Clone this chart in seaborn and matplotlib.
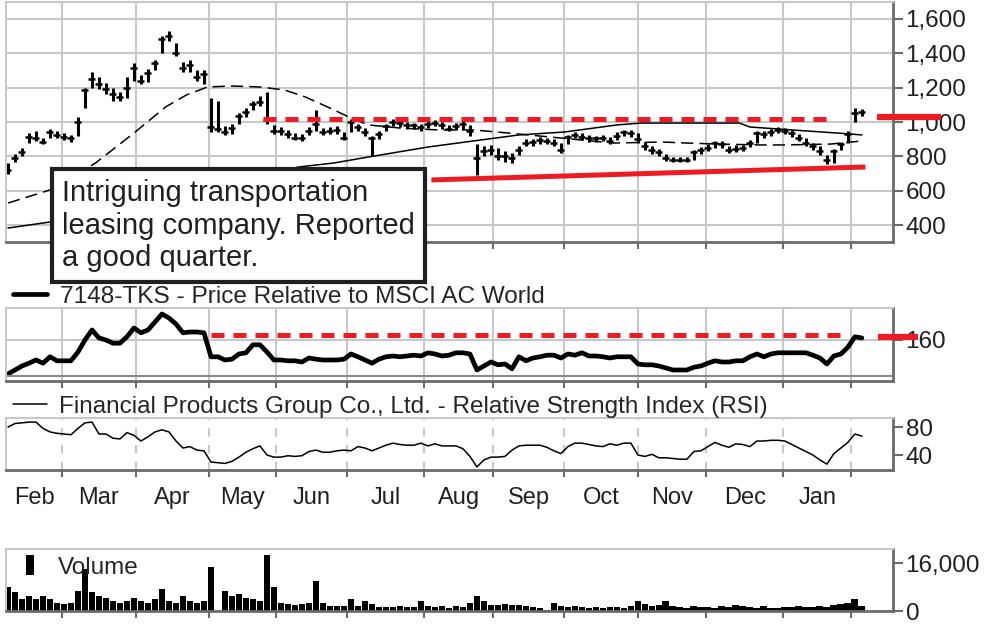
import matplotlib
matplotlib.use('Agg')
import matplotlib.pyplot as plt
from matplotlib.ticker import FuncFormatter
import seaborn as sns

# ── data (one value every second trading session) ──
days = list(range(0, 245, 2))

close = [722, 790, 826, 913, 907, 884, 942, 925, 913, 907,
         1000, 1186, 1250, 1220, 1190, 1165, 1145, 1200, 1316, 1235,
         1284, 1340, 1480, 1500, 1400, 1313, 1330, 1261, 1280, 971,
         960, 942, 965, 1035, 1058, 1105, 1116, 1012, 950, 950,
         930, 910, 907, 950, 990, 942, 948, 954, 910, 1000,
         971, 940, 905, 930, 975, 998, 994, 980, 980, 971,
         990, 994, 980, 960, 975, 988, 950, 790, 830, 838,
         800, 800, 790, 840, 880, 884, 896, 892, 880, 840,
         913, 925, 915, 907, 905, 907, 890, 920, 940, 938,
         900, 860, 838, 825, 790, 780, 780, 780, 826, 838,
         849, 878, 870, 838, 845, 850, 878, 936, 930, 940,
         954, 950, 936, 905, 880, 860, 830, 780, 830, 870,
         930, 1052, 1058]

high = [760, 815, 850, 935, 945, 910, 960, 945, 935, 925,
        1030, 1200, 1290, 1260, 1225, 1200, 1175, 1260, 1340, 1270,
        1310, 1360, 1500, 1530, 1460, 1350, 1360, 1300, 1300, 1140,
        1120, 975, 990, 1050, 1080, 1120, 1150, 1175, 985, 970,
        955, 935, 930, 970, 1070, 965, 970, 975, 940, 1020,
        990, 965, 920, 950, 990, 1015, 1010, 1000, 995, 990,
        1005, 1010, 1000, 980, 995, 1005, 980, 870, 860, 865,
        850, 830, 820, 860, 900, 900, 915, 910, 900, 880,
        925, 940, 935, 925, 920, 925, 915, 940, 955, 955,
        935, 885, 860, 845, 815, 795, 795, 795, 840, 855,
        870, 890, 890, 860, 865, 865, 895, 950, 950, 960,
        970, 965, 955, 930, 905, 880, 860, 810, 845, 885,
        945, 1080, 1075]

low = [700, 770, 800, 880, 890, 870, 905, 905, 895, 885,
       920, 1080, 1200, 1190, 1160, 1120, 1120, 1140, 1240, 1220,
       1230, 1300, 1400, 1470, 1380, 1290, 1290, 1240, 1220, 940,
       940, 925, 930, 990, 1030, 1070, 1090, 990, 930, 925,
       910, 895, 890, 925, 950, 925, 930, 930, 895, 940,
       950, 920, 800, 900, 945, 975, 970, 960, 960, 950,
       965, 975, 960, 945, 955, 960, 920, 693, 800, 810,
       780, 770, 760, 810, 860, 860, 875, 870, 860, 820,
       870, 905, 895, 885, 885, 890, 870, 895, 920, 915,
       880, 840, 815, 800, 775, 770, 770, 770, 780, 815,
       830, 850, 850, 820, 825, 830, 855, 880, 910, 920,
       935, 930, 915, 890, 860, 840, 810, 755, 760, 840,
       880, 1000, 1035]

rel = [117.5, 122.5, 127.5, 131, 135, 131, 139, 134, 134, 134,
       145, 160, 172.5, 162.5, 160, 156, 156, 164, 175, 169,
       172.5, 182.5, 192.5, 187.5, 180, 169, 170, 170, 169, 139,
       139, 135, 136, 142.5, 144, 154, 154, 145, 135, 135,
       134, 134, 132.5, 137.5, 136, 135, 135, 135, 136, 142.5,
       139, 135, 131, 136, 139, 140, 139, 140, 141, 140,
       144, 142.5, 140, 141, 144, 144, 142.5, 122.5, 127.5, 132.5,
       129, 130, 124, 139, 134, 137.5, 139, 141, 141, 137.5,
       142.5, 141, 144, 140, 140, 139, 137.5, 139, 139, 139,
       130, 129, 129, 127.5, 125, 122.5, 122.5, 122.5, 126, 127.5,
       131, 134, 132.5, 132.5, 134, 134, 139, 142.5, 139, 142.5,
       144, 144, 144, 144, 144, 141, 137.5, 130, 140, 142.5,
       151, 164, 162.5]

rsi = [80, 85, 86, 87, 87, 78, 73, 71, 70, 69,
       78, 86, 87, 70, 70, 64, 63, 72, 68, 60,
       66, 73, 76, 73, 60, 50, 52, 47, 46, 30,
       29, 28, 31, 37, 44, 49, 53, 40, 37, 37,
       39, 38, 39, 45, 47, 44, 44, 46, 47, 46,
       52, 50, 46, 50, 54, 57, 55, 54, 54, 57,
       53, 56, 53, 53, 53, 49, 38, 23, 33, 37,
       37, 38, 47, 53, 54, 54, 54, 51, 46, 42,
       52, 57, 57, 55, 53, 52, 56, 54, 57, 57,
       40, 38, 41, 36, 36, 35, 34, 34, 45, 46,
       52, 58, 54, 51, 56, 55, 52, 60, 60, 61,
       61, 60, 55, 50, 45, 40, 33, 27, 42, 50,
       58, 70, 67]

volume = [7900, 6200, 4000, 5100, 4000, 5100, 4000, 2800, 2300, 2800,
          6800, 14100, 6200, 5100, 4500, 3400, 2800, 3400, 4500, 3400,
          2800, 4000, 7300, 3400, 2800, 5100, 3400, 2800, 3400, 14700,
          0, 6800, 5100, 5600, 4500, 4000, 3400, 18600, 7900, 2800,
          2300, 2000, 2300, 2800, 10200, 2800, 1700, 1700, 1700, 4000,
          1700, 3400, 2300, 1400, 1400, 1400, 1700, 1400, 1400, 3400,
          1700, 1400, 1700, 1100, 1700, 1400, 2800, 5100, 3400, 2000,
          2000, 2300, 2000, 2000, 1700, 1400, 1100, 300, 2800, 1700,
          1400, 1700, 1400, 1100, 1400, 1100, 1400, 1400, 1100, 1700,
          3400, 2300, 1700, 2000, 3400, 1700, 1400, 1100, 1700, 1400,
          1400, 1100, 1700, 1400, 2000, 1700, 1400, 1100, 1700, 1100,
          900, 1400, 1400, 1700, 1400, 1400, 1700, 1400, 2000, 2500,
          2800, 4000, 1700]

# moving averages (dashed = shorter, solid = longer)
ma_short_days = [0, 12, 25, 36, 45, 51, 57, 64, 72, 79, 85, 92, 98, 103,
                 112, 123, 133, 143, 158, 173, 187, 194, 203, 215, 222, 235, 244]
ma_short = [530, 606, 762, 936, 1087, 1157, 1203, 1209, 1203, 1186, 1145, 1081, 1023, 983,
            965, 954, 954, 936, 907, 878, 884, 878, 872, 867, 867, 872, 890]
ma_long_days = [0, 12, 26, 41, 55, 69, 83, 93, 103, 120, 133, 146, 159, 174,
                181, 209, 212, 224, 237, 244]
ma_long = [385, 420, 470, 530, 600, 670, 739, 762, 797, 855, 890, 925, 942, 983,
           994, 994, 971, 954, 936, 925]

# red annotations
resistance_days = [73, 235]
resistance = 1020
resistance_marker = 1029
trend_days = [121, 245]
trend_vals = [664, 739]
rel_resistance_days = [58, 238]
rel_resistance = 166
rel_marker = 163.75

month_starts = [15.5, 36.5, 57.5, 76.5, 97, 119, 138.5, 159, 180, 199.5, 221.5, 241]
month_labels = ['Feb', 'Mar', 'Apr', 'May', 'Jun', 'Jul', 'Aug', 'Sep', 'Oct', 'Nov', 'Dec', 'Jan']

note = 'Intriguing transportation\nleasing company. Reported\na good quarter.'
rel_label = '7148-TKS - Price Relative to MSCI AC World'
rsi_label = 'Financial Products Group Co., Ltd. - Relative Strength Index (RSI)'

# ── style ──
sns.set_style('white')
plt.rcParams['font.family'] = ['Liberation Sans', 'DejaVu Sans']

RED = '#ec1c24'
GRID = '#c8c8c8'
DARK = '#6b6b6b'
INK = '#231f20'
XLIM = (-0.57, 252.9)

fig = plt.figure(figsize=(9.97, 6.26), dpi=100)
ax_p = fig.add_axes([0.00602, 0.6134, 0.8897, 0.3834])
ax_r = fig.add_axes([0.00602, 0.3914, 0.8897, 0.1166])
ax_s = fig.add_axes([0.00602, 0.2492, 0.8897, 0.0831])
ax_v = fig.add_axes([0.00602, 0.02396, 0.8897, 0.0990])

comma = FuncFormatter(lambda v, p: f'{v:,.0f}')


def style_panel(ax, ylim, yticks):
    ax.set_xlim(*XLIM)
    ax.set_ylim(*ylim)
    ax.set_xticks(month_starts)
    ax.set_xticklabels([])
    ax.yaxis.tick_right()
    ax.set_yticks(yticks)
    ax.yaxis.set_major_formatter(comma)
    for side in ('left', 'top'):
        ax.spines[side].set(color=GRID, lw=1.5)
    for side in ('right', 'bottom'):
        ax.spines[side].set(color=DARK, lw=2)
    ax.tick_params(axis='x', which='major', direction='out', length=5, width=1.5,
                   color=DARK, bottom=True)
    ax.tick_params(axis='y', direction='out', length=7, width=1.5, color=DARK,
                   labelsize=17.5, pad=2, labelcolor=INK, right=True, left=False)
    ax.set_xlabel('')
    ax.set_ylabel('')


# ── price panel ──
ax_p.vlines(days, low, high, color='black', lw=2.2)
ax_p.hlines(close, [d - 1.0 for d in days], [d + 1.0 for d in days], color='black', lw=1.8)
ax_p.plot(ma_short_days, ma_short, color='black', lw=1.1, ls=(0, (8, 4)))
ax_p.plot(ma_long_days, ma_long, color='black', lw=1.1)
ax_p.plot(resistance_days, [resistance] * 2, color=RED, lw=3.6, ls=(0, (2.6, 1.8)))
ax_p.plot(trend_days, trend_vals, color=RED, lw=3.6, solid_capstyle='butt')
ax_p.plot([0.982, 1.054], [resistance_marker] * 2, color=RED, lw=4.5,
          transform=ax_p.get_yaxis_transform(), clip_on=False, zorder=5,
          solid_capstyle='butt')
style_panel(ax_p, (304, 1696), [400, 600, 800, 1000, 1200, 1400, 1600])
ax_p.grid(True, color=GRID, lw=1.5)
ax_p.text(0.0631, 0.262, note, transform=ax_p.transAxes, ha='left', va='top',
          fontsize=21, color=INK, linespacing=1.2, zorder=6, clip_on=False,
          bbox=dict(boxstyle='square,pad=0.35', fc='white', ec=INK, lw=3))

# ── relative strength vs. world index ──
sns.lineplot(x=days, y=rel, ax=ax_r, color='black', lw=3.4, label=rel_label)
ax_r.plot(rel_resistance_days, [rel_resistance] * 2, color=RED, lw=3.6, ls=(0, (2.6, 1.8)))
ax_r.plot([0.983, 1.028], [rel_marker] * 2, color=RED, lw=4.5,
          transform=ax_r.get_yaxis_transform(), clip_on=False, zorder=5,
          solid_capstyle='butt')
ax_r.axhline(115, color='#8a8a8a', lw=1.5)
style_panel(ax_r, (108.75, 200), [160])
ax_r.grid(True, color=GRID, lw=1.5)
ax_r.legend(loc='lower left', bbox_to_anchor=(0.008, 1.0), frameon=False, fontsize=17.6,
            handlelength=1.4, handletextpad=0.5, borderpad=0, borderaxespad=0)

# ── RSI ──
sns.lineplot(x=days, y=rsi, ax=ax_s, color='black', lw=1.1, label=rsi_label)
style_panel(ax_s, (18.6, 92.9), [40, 80])
ax_s.grid(True, axis='x', color=GRID, lw=1.5, ls=(0, (4, 4)))
ax_s.legend(loc='lower left', bbox_to_anchor=(0.008, 1.0), frameon=False, fontsize=17.5,
            handlelength=1.4, handletextpad=0.5, borderpad=0, borderaxespad=0)
bounds = [XLIM[0]] + month_starts
mids = [(a + b) / 2 for a, b in zip(bounds[:-1], bounds[1:])]
ax_s.set_xticks(mids, minor=True)
ax_s.set_xticklabels(month_labels, minor=True)
ax_s.tick_params(axis='x', which='minor', length=0, pad=12, labelsize=17, labelcolor=INK)

# ── volume ──
bars = ax_v.bar(days, volume, width=1.95, color='black', linewidth=0, label='Volume')
style_panel(ax_v, (0, 20766), [0, 16000])
ax_v.legend(handles=[bars], labels=['Volume'], loc='upper left', bbox_to_anchor=(0.022, 0.9),
            frameon=False, fontsize=17.5, handlelength=0.35, handleheight=0.9,
            handletextpad=1.0, borderpad=0, borderaxespad=0)

fig.savefig('out.png', dpi=100)
